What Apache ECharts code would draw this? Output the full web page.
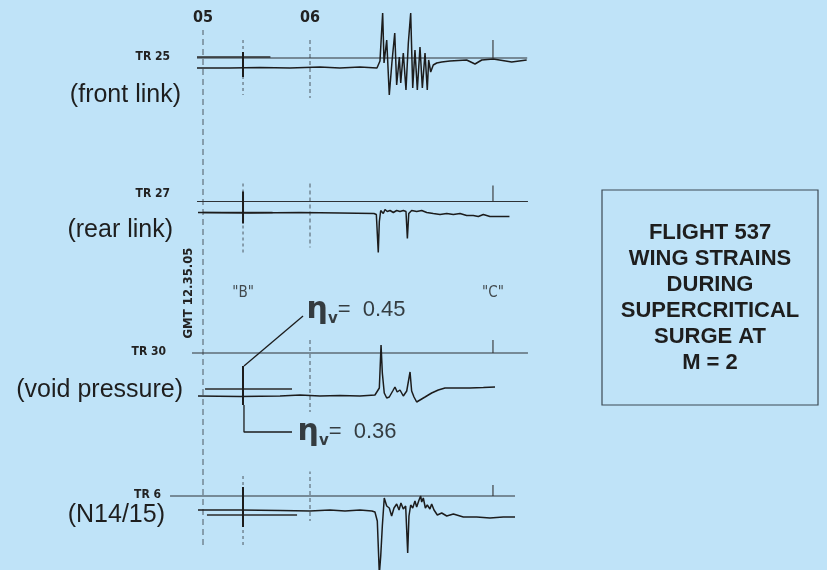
<!DOCTYPE html>
<html>
<head>
<meta charset="utf-8">
<title>Flight 537 wing strains</title>
<script src="https://cdn.jsdelivr.net/npm/echarts@6/dist/echarts.min.js"></script>
<style>
  html, body { margin: 0; padding: 0; background: #bfe3f8; }
  #chart { width: 827px; height: 570px; }
</style>
</head>
<body>
<div id="chart"></div>
<script>
// ---- record data: time in seconds past 12.35.00 GMT, deflection in record units ----
const timeTicks = [5, 6];
const timeTickLabels = ['05', '06'];
const eventTimes = [5.374, 7.71];
const eventLabels = ['"B"', '"C"'];
const secondMark = 6.0;

const channelIds = ['TR 25', 'TR 27', 'TR 30', 'TR 6'];
const channelNames = ['(front link)', '(rear link)', '(void pressure)', '(N14/15)'];

const tr25Trace = [
  [4.944,-10],[5.252,-10],[5.533,-9.5],[5.813,-10],[6.093,-9],[6.280,-10],[6.467,-9],[6.626,-10],
  [6.654,-3],[6.679,45],[6.692,-5],[6.717,18],[6.741,-37],[6.766,-4],[6.792,25],[6.810,-27],
  [6.835,1],[6.848,-25],[6.872,5],[6.897,-32],[6.919,15],[6.941,45],[6.960,-30],[6.981,8],
  [7.003,-32],[7.028,11],[7.050,-30],[7.075,5],[7.096,-32],[7.109,-2],[7.128,-14],[7.152,-7],
  [7.184,-5],[7.231,-4],[7.308,-3],[7.464,-2],[7.542,-6],[7.605,-2],[7.713,-1],[7.885,-4],[8.025,-2]
];
const tr27Trace = [
  [4.953,-11],[5.439,-11.5],[5.907,-11],[6.280,-11.5],[6.598,-12],[6.620,-13],[6.638,-51],[6.648,-20],
  [6.661,-9],[6.685,-12],[6.701,-8],[6.722,-10],[6.748,-9],[6.779,-11],[6.810,-9],[6.841,-10],
  [6.872,-9],[6.897,-10],[6.910,-37],[6.923,-12],[6.950,-9],[6.997,-10],[7.044,-9],[7.091,-11],
  [7.152,-12],[7.215,-13],[7.278,-12],[7.340,-13],[7.402,-12],[7.464,-14],[7.526,-14],[7.573,-15],
  [7.620,-13],[7.682,-15],[7.760,-15],[7.864,-15]
];
const tr30Trace = [
  [4.953,-43],[5.346,-43.5],[5.720,-43],[5.907,-42],[6.093,-43],[6.280,-42.5],[6.467,-43],[6.607,-42],
  [6.648,-35],[6.664,8],[6.676,-20],[6.694,-40],[6.717,-45],[6.741,-44],[6.773,-38],[6.794,-34],
  [6.815,-39],[6.841,-37],[6.872,-43],[6.904,-38],[6.935,-19],[6.950,-38],[6.972,-44],[6.997,-49],
  [7.028,-47],[7.075,-44],[7.137,-40],[7.199,-37],[7.262,-35],[7.371,-35],[7.495,-35],[7.620,-34.5],[7.729,-34]
];
const tr6Trace = [
  [4.953,-14],[5.346,-14],[5.720,-14.5],[6.000,-15],[6.187,-14],[6.327,-15],[6.467,-14],[6.579,-15],
  [6.607,-16],[6.629,-25],[6.648,-78],[6.661,-60],[6.676,-30],[6.694,-2],[6.717,-10],[6.741,-12],
  [6.763,-20],[6.785,-12],[6.810,-8],[6.832,-14],[6.850,-7],[6.872,-13],[6.894,-10],[6.913,-57],
  [6.925,-20],[6.941,-9],[6.960,-12],[6.981,-5],[6.997,-11],[7.019,-4],[7.034,0],[7.044,-6],
  [7.059,-2],[7.078,-12],[7.096,-9],[7.121,-13],[7.137,-8],[7.159,-14],[7.190,-19],[7.231,-17],
  [7.278,-20],[7.340,-18],[7.433,-21],[7.558,-21],[7.682,-22],[7.806,-21],[7.916,-21]
];
const traces = [tr25Trace, tr27Trace, tr30Trace, tr6Trace];

// zero (reference) line extent per channel
const refStart = [4.944, 4.944, 4.897, 4.692];
const refEnd = [8.030, 8.037, 8.037, 7.916];
// calibration strokes drawn at the start of each record
const calibLevel = [1, -11, -36, -19];
const calibStart = [4.944, 5.0, 5.019, 5.037];
const calibEnd = [5.63, 5.65, 5.832, 5.879];
// event "B" marker: solid and dashed extents per channel
const markSolidTop = [6, 10, -13, 9];
const markSolidBottom = [-19, -22, -52, -31];
const markDashTop = [18, 18, -13, 20];
const markDashBottom = [-37, -52, -52, -52];
// one-second line extents per channel
const secTop = [18, 18, 13, 26];
const secBottom = [-40, -46, -59, -25];
// event "C" tick heights
const cTickTop = [18, 16, 13, 11];

// void-fraction annotations on TR 30
const etaValues = [0.45, 0.36];
const etaLeaderHigh = [[5.383, -13], [5.935, 37]];
const etaLeaderLow = [[5.383, -52], [5.383, -79], [5.832, -79]];
const etaTextAt = [[5.963, 43], [5.879, -79]];

const titleLines = ['FLIGHT 537', 'WING STRAINS', 'DURING', 'SUPERCRITICAL', 'SURGE AT', 'M = 2'];

// ---- layout ----
const X_MIN = 4.6, X_MAX = 8.2;
const GRID_LEFT = 160.2, GRID_WIDTH = 385.2;
const refY = [58, 201.5, 353, 496];
const yRange = [[-45, 50], [-55, 22], [-85, 66], [-74, 24]];
const INK = '#1c1c1c';
const LIGHT = '#4d5862';
const HAND = '"DejaVu Sans Condensed", "DejaVu Sans", sans-serif';

const grids = [], xAxes = [], yAxes = [], series = [];
for (let i = 0; i < 4; i++) {
  grids.push({
    left: GRID_LEFT, width: GRID_WIDTH,
    top: refY[i] - yRange[i][1], height: yRange[i][1] - yRange[i][0],
    containLabel: false, outerBoundsMode: 'none', show: false
  });
  xAxes.push({ type: 'value', gridIndex: i, min: X_MIN, max: X_MAX, show: false });
  yAxes.push({ type: 'value', gridIndex: i, min: yRange[i][0], max: yRange[i][1], show: false });
}
// overlay grid carrying the time scale and the full-height 05 line
grids.push({ left: GRID_LEFT, width: GRID_WIDTH, top: 30, height: 515,
  containLabel: false, outerBoundsMode: 'none', show: false });
xAxes.push({
  type: 'value', gridIndex: 4, position: 'top', min: X_MIN, max: X_MAX, interval: 0.2,
  axisLine: { show: false }, axisTick: { show: false }, splitLine: { show: false },
  axisLabel: {
    margin: 4, color: '#222', fontFamily: HAND, fontWeight: 'bold', fontSize: 16,
    showMinLabel: true, showMaxLabel: true,
    formatter: v => {
      const k = timeTicks.findIndex(t => Math.abs(t - v) < 1e-6);
      return k >= 0 ? timeTickLabels[k] : '';
    }
  }
});
yAxes.push({ type: 'value', gridIndex: 4, min: 0, max: 1, show: false });

function line(g, data, color, width, type, z) {
  series.push({
    type: 'line', xAxisIndex: g, yAxisIndex: g, data: data,
    showSymbol: false, symbol: 'none', silent: true, animation: false,
    lineStyle: { color: color, width: width, type: type || 'solid' }, z: z || 2
  });
}

line(4, [[timeTicks[0], 0], [timeTicks[0], 1]], LIGHT, 1, [6, 4], 1);

for (let i = 0; i < 4; i++) {
  line(i, [[refStart[i], 0], [refEnd[i], 0]], '#2e3236', 1.1, 'solid', 2);
  line(i, [[calibStart[i], calibLevel[i]], [calibEnd[i], calibLevel[i]]], '#2a2a2a', 1.3, 'solid', 2);
  line(i, [[eventTimes[0], markDashTop[i]], [eventTimes[0], markDashBottom[i]]], LIGHT, 1, [3, 3], 1);
  line(i, [[eventTimes[0], markSolidTop[i]], [eventTimes[0], markSolidBottom[i]]], INK, 2, 'solid', 3);
  line(i, [[secondMark, secTop[i]], [secondMark, secBottom[i]]], LIGHT, 1, [4, 3], 1);
  line(i, [[eventTimes[1], cTickTop[i]], [eventTimes[1], 0]], '#333', 1.1, 'solid', 2);
  line(i, traces[i], INK, 1.5, 'solid', 4);
}

// annotation leaders
line(2, etaLeaderHigh, INK, 1.3, 'solid', 3);
line(2, etaLeaderLow, INK, 1.3, 'solid', 3);

const etaRich = {
  e: { fontSize: 30, fontWeight: 'bold', fontFamily: '"DejaVu Sans", sans-serif', color: '#111', lineHeight: 34 },
  v: { fontSize: 15, fontWeight: 'bold', fontFamily: '"DejaVu Sans", sans-serif', color: '#111', verticalAlign: 'bottom', padding: [14, 0, 0, 0] },
  q: { fontSize: 22, fontFamily: '"Liberation Sans", Arial, sans-serif', color: '#111' }
};
series.push({
  type: 'scatter', xAxisIndex: 2, yAxisIndex: 2, silent: true, animation: false, clip: false,
  symbolSize: 1, itemStyle: { color: 'rgba(0,0,0,0)' },
  data: etaTextAt.map((p, k) => ({
    value: p,
    label: {
      show: true, position: 'right', distance: 0, rich: etaRich,
      formatter: '{e|η}{v|v}{q|=  ' + etaValues[k].toFixed(2) + '}'
    }
  }))
});
// event names above TR 30
series.push({
  type: 'scatter', xAxisIndex: 2, yAxisIndex: 2, silent: true, animation: false, clip: false,
  symbolSize: 1, itemStyle: { color: 'rgba(0,0,0,0)' },
  data: eventTimes.map((t, k) => ({
    value: [t, 60],
    label: { show: true, position: 'inside', formatter: eventLabels[k],
      fontFamily: HAND, fontSize: 15, color: '#222' }
  }))
});

// ---- text blocks ----
const graphics = [];
const idY = [57, 194, 352, 495];
const nameY = [95, 230, 390, 515];
const idRight = [170, 170, 166, 161];
const nameRight = [181, 173, 183, 165];
for (let i = 0; i < 4; i++) {
  graphics.push({ type: 'text', x: idRight[i], y: idY[i], silent: true,
    style: { text: channelIds[i], align: 'right', verticalAlign: 'middle',
      font: 'bold 12px ' + HAND, fill: '#222' } });
  graphics.push({ type: 'text', x: nameRight[i], y: nameY[i], silent: true,
    style: { text: channelNames[i], align: 'right', verticalAlign: 'middle',
      font: '25px "Liberation Sans", Arial, sans-serif', fill: '#1e1e1e' } });
}
graphics.push({ type: 'text', x: 189, y: 293, rotation: Math.PI / 2, silent: true,
  style: { text: 'GMT 12.35.05', align: 'center', verticalAlign: 'middle',
    font: 'bold 13px ' + HAND, fill: '#222' } });
graphics.push({ type: 'rect', silent: true,
  shape: { x: 602, y: 190, width: 216, height: 215 },
  style: { fill: 'none', stroke: '#3c4a55', lineWidth: 1.2 } });
titleLines.forEach((t, k) => {
  graphics.push({ type: 'text', x: 710, y: 233 + k * 26, silent: true,
    style: { text: t, align: 'center', verticalAlign: 'middle',
      font: 'bold 22px "Liberation Sans", Arial, sans-serif', fill: '#1e1e1e' } });
});

const chart = echarts.init(document.getElementById('chart'), null, { renderer: 'canvas' });
chart.setOption({
  backgroundColor: '#bfe3f8',
  animation: false,
  grid: grids, xAxis: xAxes, yAxis: yAxes,
  series: series,
  graphic: graphics
});
</script>
</body>
</html>
